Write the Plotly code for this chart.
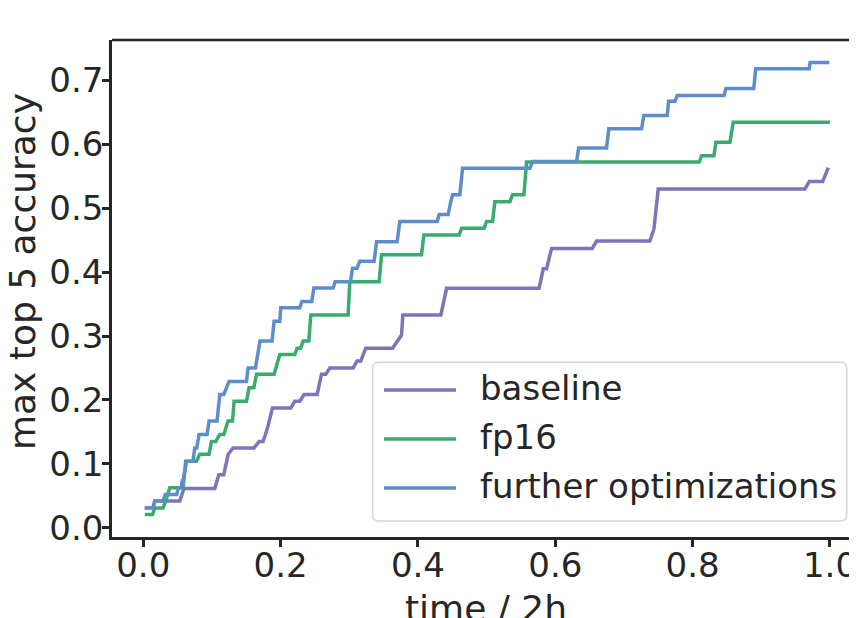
import plotly.graph_objects as go

# ---- data ----
series_names = ["baseline", "fp16", "further optimizations"]

baseline_x = [0.0022, 0.0143, 0.0168, 0.0532, 0.0594, 0.1042, 0.110, 0.1173, 0.1235, 0.1308,
              0.1614, 0.1687, 0.1745, 0.1809, 0.1882, 0.2149, 0.2207, 0.228, 0.2342, 0.2532,
              0.2596, 0.2658, 0.2717, 0.3056, 0.3114, 0.3168, 0.324, 0.363, 0.3761, 0.378,
              0.4334, 0.4417, 0.5765, 0.5824, 0.5873, 0.5946, 0.6538, 0.6602, 0.7378, 0.7436,
              0.7499, 0.9636, 0.9698, 0.9894, 0.9975]
baseline_y = [0.031, 0.031, 0.042, 0.042, 0.0615, 0.0615, 0.083, 0.083, 0.1146, 0.125,
              0.125, 0.135, 0.135, 0.156, 0.1875, 0.1875, 0.198, 0.198, 0.2085, 0.2085,
              0.240, 0.240, 0.250, 0.250, 0.261, 0.261, 0.281, 0.281, 0.3015, 0.333,
              0.333, 0.3745, 0.3745, 0.405, 0.405, 0.437, 0.437, 0.4486, 0.4486, 0.467,
              0.530, 0.530, 0.5415, 0.5415, 0.5635]

fp16_x = [0.0022, 0.0134, 0.0168, 0.0288, 0.0328, 0.0386, 0.058, 0.0619, 0.0775, 0.0823,
          0.0958, 0.0993, 0.1056, 0.1114, 0.1173, 0.1235, 0.130, 0.1323, 0.1503, 0.1541,
          0.161, 0.1649, 0.1905, 0.1988, 0.2207, 0.224, 0.229, 0.2328, 0.2411, 0.244,
          0.2983, 0.3008, 0.3435, 0.347, 0.4052, 0.4086, 0.46, 0.4635, 0.4964, 0.4999,
          0.5087, 0.512, 0.5339, 0.5378, 0.5543, 0.5582, 0.8096, 0.8131, 0.831, 0.834,
          0.8543, 0.8591, 1.0]
fp16_y = [0.0206, 0.0206, 0.031, 0.031, 0.0415, 0.0625, 0.0625, 0.104, 0.104, 0.115,
          0.115, 0.135, 0.135, 0.146, 0.146, 0.167, 0.167, 0.198, 0.198, 0.219,
          0.219, 0.240, 0.240, 0.271, 0.271, 0.281, 0.281, 0.292, 0.292, 0.333,
          0.333, 0.385, 0.385, 0.427, 0.427, 0.458, 0.458, 0.4685, 0.4685, 0.479,
          0.479, 0.510, 0.510, 0.521, 0.521, 0.572, 0.572, 0.582, 0.582, 0.603,
          0.603, 0.6345, 0.6345]

further_x = [0.0022, 0.0143, 0.0168, 0.0288, 0.032, 0.0488, 0.051, 0.0553, 0.0568, 0.058,
             0.063, 0.0725, 0.075, 0.078, 0.0813, 0.093, 0.0958, 0.1075, 0.1114, 0.1173,
             0.125, 0.1503, 0.1527, 0.1634, 0.170, 0.1876, 0.1905, 0.1988, 0.2003, 0.228,
             0.231, 0.2455, 0.2484, 0.2765, 0.2794, 0.3018, 0.3047, 0.3114, 0.3154, 0.3362,
             0.3397, 0.3697, 0.3736, 0.428, 0.4309, 0.444, 0.4479, 0.4504, 0.461, 0.465,
             0.563, 0.567, 0.631, 0.634, 0.6747, 0.678, 0.7257, 0.729, 0.763, 0.765,
             0.7742, 0.7776, 0.8456, 0.8485, 0.889, 0.8918, 0.9698, 0.971, 0.999]
further_y = [0.031, 0.031, 0.042, 0.042, 0.052, 0.052, 0.0625, 0.0625, 0.073, 0.073,
             0.104, 0.104, 0.125, 0.125, 0.146, 0.146, 0.167, 0.167, 0.2085, 0.2085,
             0.229, 0.229, 0.250, 0.250, 0.292, 0.292, 0.323, 0.323, 0.344, 0.344,
             0.354, 0.354, 0.375, 0.375, 0.385, 0.385, 0.406, 0.406, 0.417, 0.417,
             0.4475, 0.4475, 0.479, 0.479, 0.490, 0.490, 0.510, 0.521, 0.521, 0.5625,
             0.5625, 0.573, 0.573, 0.594, 0.594, 0.624, 0.624, 0.645, 0.645, 0.667,
             0.667, 0.676, 0.676, 0.687, 0.687, 0.718, 0.718, 0.728, 0.728]

x_ticks = [0.0, 0.2, 0.4, 0.6, 0.8, 1.0]
y_ticks = [0.0, 0.1, 0.2, 0.3, 0.4, 0.5, 0.6, 0.7]
x_title = "time / 2h"
y_title = "max top 5 accuracy"

colors = ["#7f74b8", "#3aaa6e", "#5e8dcc"]
INK = "#262626"
FONT = "DejaVu Sans"

series = [(series_names[0], baseline_x, baseline_y),
          (series_names[1], fp16_x, fp16_y),
          (series_names[2], further_x, further_y)]

fig = go.Figure()
for i, (name, xs, ys) in enumerate(series):
    fig.add_trace(go.Scatter(x=xs, y=ys, mode="lines", name=name, showlegend=False,
                             line=dict(color=colors[i], width=3.5)))

axis_common = dict(showgrid=False, zeroline=False, showline=True, linecolor=INK,
                   linewidth=2.7, ticks="outside", ticklen=7, tickwidth=2.5,
                   tickcolor=INK, tickfont=dict(family=FONT, size=34, color=INK),
                   automargin=False)

# the page body has an 8px margin; the figure is shifted to compensate
fig.update_layout(
    width=857, height=618,
    margin=dict(l=104, r=0, t=32, b=89),
    paper_bgcolor="white", plot_bgcolor="white",
    font=dict(family=FONT, color=INK),
    xaxis=dict(range=[-0.0455, 1.051], tickvals=x_ticks,
               ticktext=[f"{v:.1f}" for v in x_ticks], ticklabelstandoff=-11,
               **axis_common),
    yaxis=dict(range=[-0.0144, 0.763], tickvals=y_ticks,
               ticktext=[f"{v:.1f}" for v in y_ticks], ticklabelstandoff=-8,
               **axis_common),
    showlegend=False,
)

# axis titles
fig.add_annotation(xref="paper", yref="paper", x=0.497, y=-0.099, xanchor="center",
                   yanchor="top", showarrow=False, text=x_title,
                   font=dict(family=FONT, size=36, color=INK))
fig.add_annotation(xref="paper", yref="paper", x=-0.1195, y=0.533, xanchor="center",
                   yanchor="middle", showarrow=False, text=y_title, textangle=-90,
                   font=dict(family=FONT, size=36, color=INK))

# top spine (the right spine lies outside the cropped picture)
fig.add_shape(type="line", xref="paper", yref="paper", x0=0, x1=1, y0=1, y1=1,
              line=dict(color=INK, width=2.7))

# ---- legend box (drawn in plot-area fractions) ----
W, H = 753.0, 497.0          # plot area size in px
bx0, bx1, by0, by1 = 0.3462, 0.9757, 0.0322, 0.3515
rx, ry = 6 / W, 6 / H
box_path = (f"M {bx0+rx},{by0} L {bx1-rx},{by0} Q {bx1},{by0} {bx1},{by0+ry} "
            f"L {bx1},{by1-ry} Q {bx1},{by1} {bx1-rx},{by1} "
            f"L {bx0+rx},{by1} Q {bx0},{by1} {bx0},{by1-ry} "
            f"L {bx0},{by0+ry} Q {bx0},{by0} {bx0+rx},{by0} Z")
fig.add_shape(type="path", xref="paper", yref="paper", path=box_path,
              fillcolor="rgba(255,255,255,0.8)", line=dict(color="#d6d6d6", width=1.6),
              layer="above")

row_y = [0.2958, 0.1972, 0.0986]
for i, (name, _, _) in enumerate(series):
    fig.add_shape(type="line", xref="paper", yref="paper",
                  x0=0.3612, x1=0.4568, y0=row_y[i], y1=row_y[i],
                  line=dict(color=colors[i], width=3.5), layer="above")
    fig.add_annotation(xref="paper", yref="paper", x=0.486, y=row_y[i] + 0.004,
                       xanchor="left", yanchor="middle", showarrow=False,
                       text=name, font=dict(family=FONT, size=34, color=INK))

fig.write_html("out.html")
